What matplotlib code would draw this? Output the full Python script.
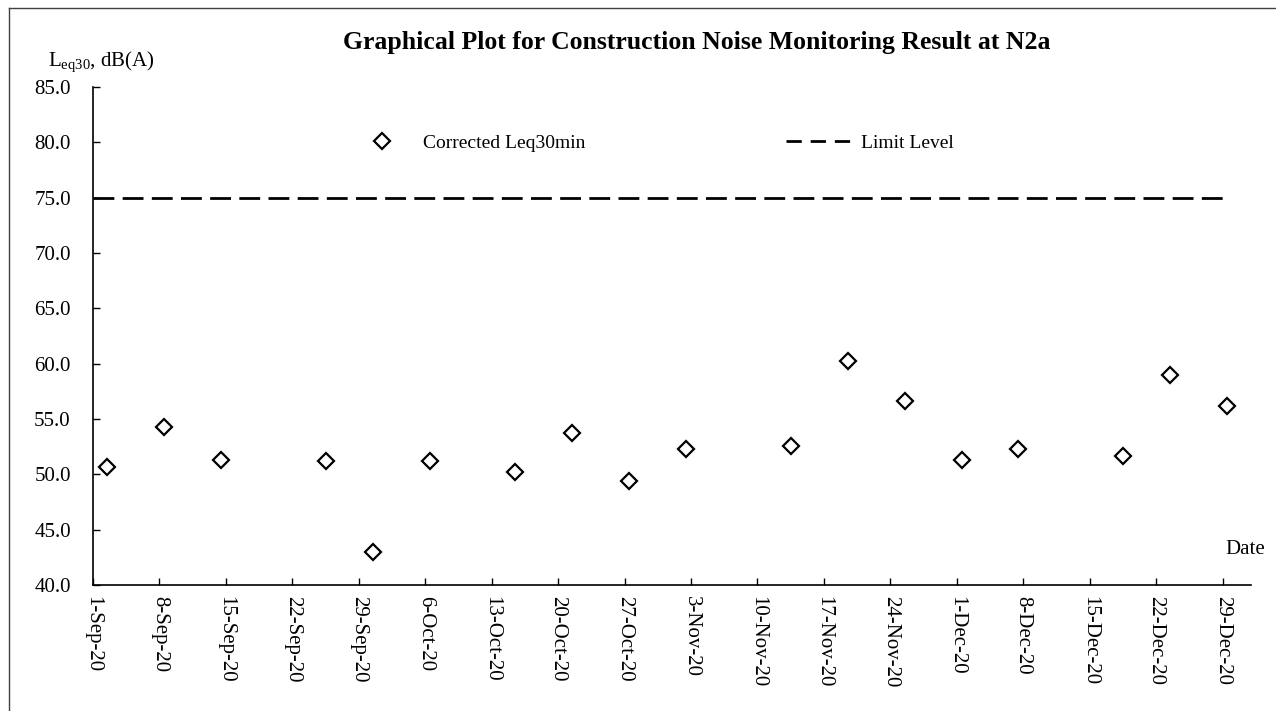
import pandas as pd
import matplotlib.pyplot as plt
from matplotlib.lines import Line2D

plt.rcParams['font.family'] = ['Liberation Serif', 'DejaVu Serif']
plt.rcParams['mathtext.fontset'] = 'custom'
plt.rcParams['mathtext.rm'] = 'Liberation Serif'
plt.rcParams['mathtext.default'] = 'regular'

# Monitoring data
dates = ["2020-09-02", "2020-09-08", "2020-09-14", "2020-09-25", "2020-09-30",
         "2020-10-06", "2020-10-15", "2020-10-21", "2020-10-27", "2020-11-02",
         "2020-11-13", "2020-11-19", "2020-11-25", "2020-12-01", "2020-12-07",
         "2020-12-18", "2020-12-23", "2020-12-29"]
leq = [50.7, 54.3, 51.3, 51.2, 43.0, 51.2, 50.2, 53.7, 49.4, 52.3,
       52.6, 60.2, 56.6, 51.3, 52.3, 51.7, 59.0, 56.2]
limit_level = 75.0
limit_span = ["2020-09-01 00:00", "2020-12-29 12:00"]
x_range = ["2020-09-01", "2021-01-01"]

# points sit in the middle of each day (Excel date axis)
x = pd.to_datetime(dates) + pd.Timedelta(hours=12)
tick_dates = pd.date_range("2020-09-01", "2020-12-29", freq="7D")

fig = plt.figure(figsize=(12.76, 7.11), dpi=100)
ax = fig.add_axes([93 / 1276, 1 - 585 / 711, (1251 - 93) / 1276, (585 - 87) / 711])

ax.plot(x, leq, linestyle='none', marker='D', markersize=8.5,
        markerfacecolor='white', markeredgecolor='black', markeredgewidth=1.6,
        clip_on=False, zorder=3)
ax.plot(pd.to_datetime(limit_span), [limit_level, limit_level], color='black',
        linewidth=2.0, dashes=(7.5, 3))

ax.set_xlim(pd.to_datetime(x_range[0]), pd.to_datetime(x_range[1]))
ax.set_ylim(40, 85)
ax.set_yticks(range(40, 86, 5))
ax.yaxis.set_major_formatter(plt.FormatStrFormatter('%.1f'))
ax.set_xticks(tick_dates)
ax.set_xticklabels([d.strftime('%-d-%b-%y') for d in tick_dates], rotation=270)

for s in ['top', 'right']:
    ax.spines[s].set_visible(False)
for s in ['left', 'bottom']:
    ax.spines[s].set_linewidth(1.2)
ax.tick_params(direction='in', length=5, width=1, labelsize=15, colors='black')
ax.tick_params(axis='x', pad=8)
ax.tick_params(axis='y', pad=16)

handles = [Line2D([], [], linestyle='none', marker='D', markersize=8.5,
                  markerfacecolor='white', markeredgecolor='black', markeredgewidth=1.6),
           Line2D([], [], color='black', linewidth=2.0, dashes=(5.5, 3.2))]
ax.legend(handles, ['Corrected Leq30min', 'Limit Level'],
          loc='center left', bbox_to_anchor=(348 / 1276, 1 - 143 / 711),
          bbox_transform=fig.transFigure, ncol=2, frameon=False, fontsize=14,
          handlelength=3.5, handletextpad=0.36, columnspacing=10.3,
          borderpad=0, borderaxespad=0)

fig.text(697 / 1276, 1 - 42 / 711,
         'Graphical Plot for Construction Noise Monitoring Result at N2a',
         ha='center', va='center', fontsize=18.5, fontweight='bold')
fig.text(48 / 1276, 1 - 62 / 711, 'L$_{eq30}$, dB(A)', ha='left', va='center', fontsize=15)
fig.text(1265 / 1276, 1 - 549 / 711, 'Date', ha='right', va='center', fontsize=15)

# chart area border (only left/top visible in the original)
fig.add_artist(Line2D([8.5 / 1276, 8.5 / 1276], [0, 1 - 8 / 711], color='#404040', linewidth=1.0))
fig.add_artist(Line2D([8.5 / 1276, 1], [1 - 8 / 711, 1 - 8 / 711], color='#404040', linewidth=1.0))

fig.savefig('out.png', dpi=100)
